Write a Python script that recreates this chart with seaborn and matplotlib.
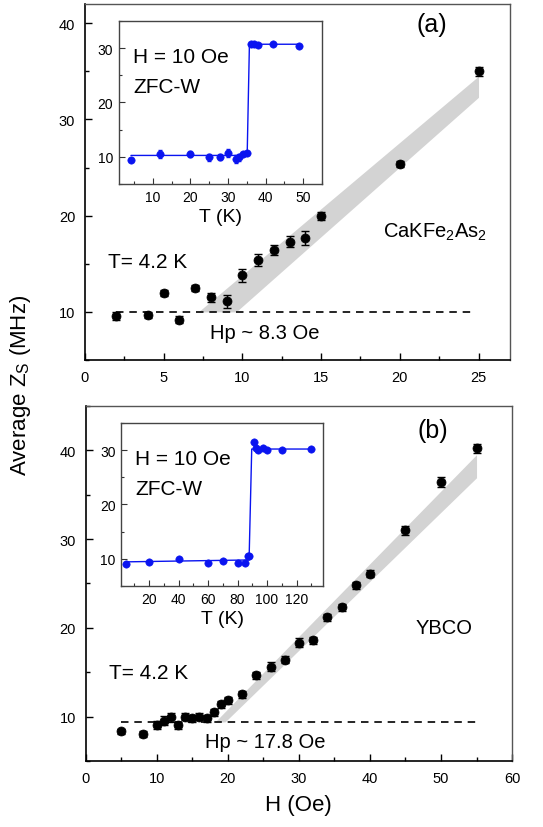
import numpy as np
import pandas as pd
import matplotlib
matplotlib.use("Agg")
import matplotlib.pyplot as plt
from matplotlib.ticker import MultipleLocator
import seaborn as sns

# ---- panel (a): CaKFe2As2 ----
h_a = [2, 4, 5, 6, 7, 8, 9, 10, 11, 12, 13, 14, 15, 20, 25]
z_a = [9.6, 9.7, 12.0, 9.2, 12.5, 11.5, 11.1, 13.8, 15.4, 16.4, 17.3, 17.7, 20.0, 25.4, 35.0]
err_a = [0.4, 0.3, 0.3, 0.4, 0.3, 0.5, 0.7, 0.7, 0.6, 0.5, 0.6, 0.7, 0.4, 0.3, 0.5]
band_a_h = [7.2, 9.6, 25]
band_a_low = [10.0, 10.0, 32.3]
band_a_high = [10.0, 13.3, 34.5]
hp_a_h = [2, 24.6]
hp_a_z = [10.0, 10.0]

inset_a_t = [4.2, 12, 20, 25, 28, 30, 32, 33, 34, 35, 36, 37, 38, 42, 49]
inset_a_z = [9.5, 10.5, 10.55, 9.9, 10.0, 10.7, 9.6, 9.9, 10.55, 10.7, 30.7, 30.8, 30.65, 30.75, 30.4]
inset_a_err = [0.3, 0.8, 0.5, 0.6, 0.5, 0.7, 0.7, 0.7, 0.4, 0.4, 0.2, 0.2, 0.2, 0.2, 0.2]
fit_a_t = [4.2, 35.1, 35.7, 49]
fit_a_z = [10.25, 10.25, 30.7, 30.7]

# ---- panel (b): YBCO ----
h_b = [5, 8, 10, 11, 12, 13, 14, 15, 16, 17, 18, 19, 20, 22, 24, 26, 28, 30, 32, 34, 36, 38, 40, 45, 50, 55]
z_b = [8.35, 8.05, 9.05, 9.55, 9.9, 9.0, 10.0, 9.8, 10.0, 9.8, 10.5, 11.4, 11.85, 12.5, 14.65, 15.6,
       16.4, 18.3, 18.6, 21.2, 22.3, 24.8, 26.1, 31.0, 36.4, 40.2]
err_b = [0.3, 0.3, 0.4, 0.5, 0.5, 0.4, 0.4, 0.4, 0.4, 0.4, 0.4, 0.4, 0.4, 0.4, 0.4, 0.5,
         0.4, 0.5, 0.4, 0.4, 0.4, 0.4, 0.4, 0.5, 0.6, 0.5]
band_b_h = [18.2, 19.6, 55]
band_b_low = [9.4, 9.4, 36.9]
band_b_high = [9.4, 10.55, 39.5]
hp_b_h = [5, 55]
hp_b_z = [9.4, 9.4]

inset_b_t = [4.2, 20, 40, 60, 70, 80, 85, 87, 88, 91, 92.5, 94, 97, 100, 110, 130]
inset_b_z = [9.1, 9.4, 10.0, 9.3, 9.55, 9.3, 9.3, 10.5, 10.5, 31.45, 30.4, 30.05, 30.4, 30.05, 30.0, 30.2]
fit_b_t = [4.2, 87.8, 89.6, 130]
fit_b_z = [9.45, 9.8, 30.2, 30.2]

sns.set_theme(style="ticks")
plt.rcParams['font.family'] = ['Liberation Sans', 'DejaVu Sans']
plt.rcParams['mathtext.default'] = 'regular'
plt.rcParams['xtick.direction'] = 'in'
plt.rcParams['ytick.direction'] = 'in'
plt.rcParams['text.color'] = 'black'
plt.rcParams['axes.labelcolor'] = 'black'
plt.rcParams['xtick.color'] = 'black'
plt.rcParams['ytick.color'] = 'black'

fig = plt.figure(figsize=(5.43, 8.28), dpi=100)
ax_a = fig.add_axes([0.1565, 0.564, 0.7827, 0.430])
ax_b = fig.add_axes([0.158, 0.0797, 0.785, 0.429])
in_a = fig.add_axes([0.219, 0.7766, 0.374, 0.197])
in_b = fig.add_axes([0.223, 0.291, 0.372, 0.197])

BAND = '#d3d3d3'
BLUE = '#0a14f0'


def style_main(ax, xmax, xmajor, ymax):
    ax.set_xlim(0, xmax)
    ax.set_ylim(5, ymax)
    ax.xaxis.set_major_locator(MultipleLocator(xmajor))
    ax.xaxis.set_minor_locator(MultipleLocator(xmajor / 2))
    ax.yaxis.set_major_locator(MultipleLocator(10))
    ax.yaxis.set_minor_locator(MultipleLocator(5))
    ax.set_yticks([10, 20, 30, 40])
    ax.tick_params(which='major', length=5, width=1, labelsize=10.5, pad=7, color='black')
    ax.tick_params(which='minor', length=3, width=1, color='black')
    for side in ['left', 'bottom']:
        ax.spines[side].set_linewidth(1.2)
        ax.spines[side].set_color('black')
    for side in ['top', 'right']:
        ax.spines[side].set_linewidth(1.0)
        ax.spines[side].set_color('#555555')
    ax.set_xlabel('')
    ax.set_ylabel('')


def style_inset(ax, xlim, xmajor):
    ax.set_xlim(*xlim)
    ax.set_ylim(5, 35)
    ax.xaxis.set_major_locator(MultipleLocator(xmajor))
    ax.xaxis.set_minor_locator(MultipleLocator(xmajor / 2))
    ax.set_yticks([10, 20, 30])
    ax.yaxis.set_minor_locator(MultipleLocator(5))
    ax.tick_params(which='major', length=4, width=0.8, labelsize=10, pad=4, color='#333333')
    ax.tick_params(which='minor', length=2, width=0.8, color='#333333')
    for s in ax.spines.values():
        s.set_linewidth(1.0)
        s.set_color('#444444')
    ax.set_xlabel('T (K)', fontsize=14, labelpad=3)
    ax.set_ylabel('')


def draw_main(ax, h, z, err, bh, blo, bhi, hph, hpz):
    ax.fill_between(bh, blo, bhi, color=BAND, lw=0, zorder=1)
    sns.lineplot(x=hph, y=hpz, ax=ax, color='black', lw=1.2, linestyle=(0, (4.5, 3.5)),
                 zorder=2, legend=False)
    ax.errorbar(h, z, yerr=err, fmt='none', ecolor='black', elinewidth=1, capsize=3, zorder=3)
    sns.scatterplot(x=h, y=z, ax=ax, color='black', s=42, edgecolor='black', zorder=4, legend=False)


def draw_inset(ax, t, z, fit_t, fit_z, err=None):
    sns.lineplot(x=fit_t, y=fit_z, ax=ax, color=BLUE, lw=1.0, legend=False, sort=False)
    if err is not None:
        ax.errorbar(t, z, yerr=err, fmt='none', ecolor=BLUE, elinewidth=0.9, capsize=1.5)
    sns.scatterplot(x=t, y=z, ax=ax, color=BLUE, s=28, edgecolor=BLUE, legend=False, zorder=4)
    ax.text(0.07, 0.78, 'H = 10 Oe', transform=ax.transAxes, fontsize=15, va='center')
    ax.text(0.07, 0.595, 'ZFC-W', transform=ax.transAxes, fontsize=15, va='center')


# panel (a)
draw_main(ax_a, h_a, z_a, err_a, band_a_h, band_a_low, band_a_high, hp_a_h, hp_a_z)
style_main(ax_a, 27, 5, 42)
ax_a.text(0.815, 0.945, '(a)', transform=ax_a.transAxes, fontsize=18, ha='center', va='center')
ax_a.text(0.823, 0.36, 'CaKFe$_2$As$_2$', transform=ax_a.transAxes, fontsize=14.5, ha='center', va='center')
ax_a.text(0.054, 0.278, 'T= 4.2 K', transform=ax_a.transAxes, fontsize=15, va='center')
ax_a.text(0.295, 0.077, 'Hp ~ 8.3 Oe', transform=ax_a.transAxes, fontsize=14.5, va='center')

draw_inset(in_a, inset_a_t, inset_a_z, fit_a_t, fit_a_z, inset_a_err)
style_inset(in_a, (1, 55), 10)

# panel (b)
draw_main(ax_b, h_b, z_b, err_b, band_b_h, band_b_low, band_b_high, hp_b_h, hp_b_z)
style_main(ax_b, 60, 10, 45)
ax_b.text(0.815, 0.933, '(b)', transform=ax_b.transAxes, fontsize=18, ha='center', va='center')
ax_b.text(0.84, 0.376, 'YBCO', transform=ax_b.transAxes, fontsize=14.5, ha='center', va='center')
ax_b.text(0.055, 0.25, 'T= 4.2 K', transform=ax_b.transAxes, fontsize=15, va='center')
ax_b.text(0.28, 0.054, 'Hp ~ 17.8 Oe', transform=ax_b.transAxes, fontsize=14.5, va='center')

draw_inset(in_b, inset_b_t, inset_b_z, fit_b_t, fit_b_z)
style_inset(in_b, (1, 138), 20)

fig.text(0.037, 0.535, 'Average Z$_S$ (MHz)', rotation=90, fontsize=16, ha='center', va='center')
fig.text(0.55, 0.027, 'H (Oe)', fontsize=16, ha='center', va='center')

fig.savefig('out.png', dpi=100)
